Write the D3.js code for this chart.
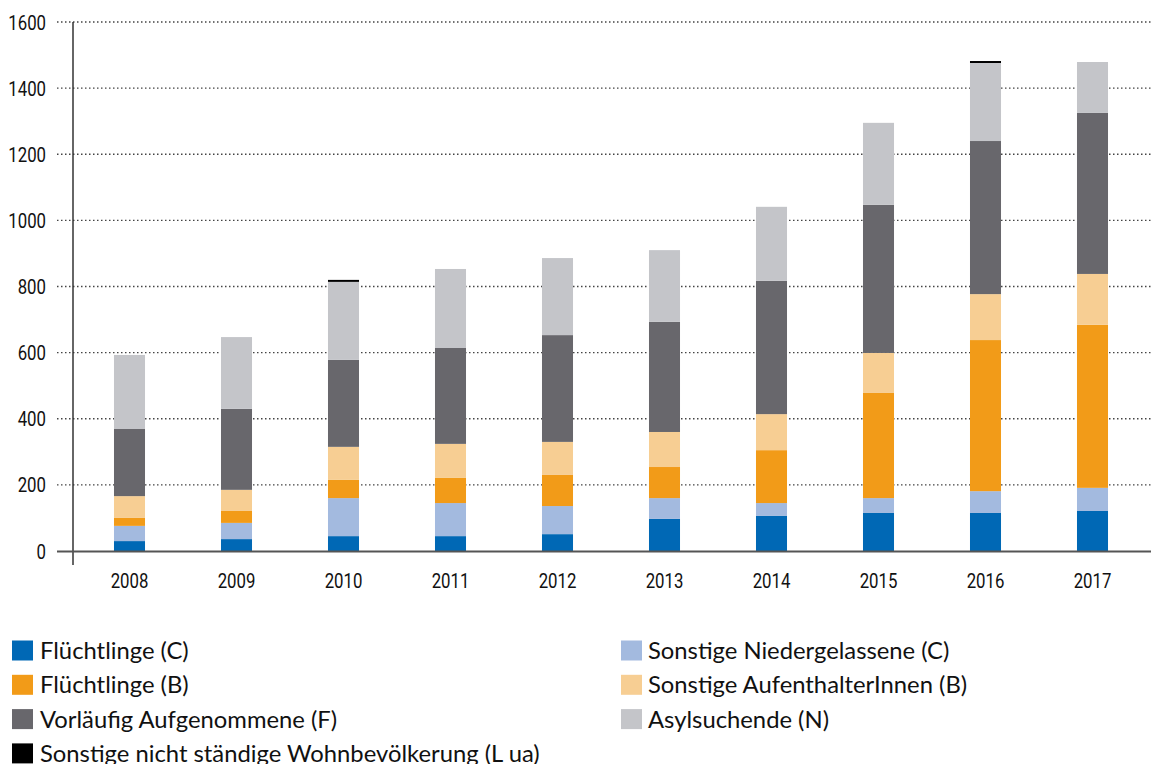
<!DOCTYPE html>
<html>
<head>
    <meta charset="utf-8">
    <title>Wohnbevölkerung nach Aufenthaltsstatus</title>
    <script src="https://d3js.org/d3.v7.min.js"></script>
    <style>
        body {
            margin: 0;
            background: #fff;
        }
        .tick-label {
            font-family: Roboto, "Liberation Sans", sans-serif;
            font-size: 21px;
            fill: #111;
        }
        .legend-label {
            font-family: Lato, "Open Sans", sans-serif;
            font-size: 23.8px;
            fill: #111;
        }
    </style>
</head>
<body>
    <svg id="chart" width="1151" height="764"></svg>
    <script>
        // values, stacked bottom to top
        const years = ['2008', '2009', '2010', '2011', '2012', '2013', '2014', '2015', '2016', '2017'];
        const fluechtlingeC = [30, 36, 45, 45, 51, 97, 106, 115, 115, 121];
        const niedergelasseneC = [46, 49, 115, 100, 85, 63, 39, 45, 66, 70];
        const fluechtlingeB = [24, 36, 55, 76, 94, 94, 160, 318, 457, 493];
        const aufenthalterB = [66, 64, 100, 103, 100, 106, 109, 121, 139, 154];
        const vorlaeufigF = [203, 245, 263, 290, 323, 333, 403, 448, 463, 487];
        const asylN = [224, 217, 236, 239, 233, 217, 224, 248, 236, 154];
        const sonstigeL = [0, 0, 6, 0, 0, 0, 0, 0, 6, 0];
        const yTicks = [0, 200, 400, 600, 800, 1000, 1200, 1400, 1600];

        const series = [
            { key: 'fluechtlingeC', label: 'Flüchtlinge (C)', color: '#0068b5', values: fluechtlingeC },
            { key: 'niedergelasseneC', label: 'Sonstige Niedergelassene (C)', color: '#a3badf', values: niedergelasseneC },
            { key: 'fluechtlingeB', label: 'Flüchtlinge (B)', color: '#f29b18', values: fluechtlingeB },
            { key: 'aufenthalterB', label: 'Sonstige AufenthalterInnen (B)', color: '#f7ce93', values: aufenthalterB },
            { key: 'vorlaeufigF', label: 'Vorläufig Aufgenommene (F)', color: '#68676c', values: vorlaeufigF },
            { key: 'asylN', label: 'Asylsuchende (N)', color: '#c4c5c9', values: asylN },
            { key: 'sonstigeL', label: 'Sonstige nicht ständige Wohnbevölkerung (L ua)', color: '#000000', values: sonstigeL }
        ];

        // legend layout: left column and right column
        const legendLeft = ['fluechtlingeC', 'fluechtlingeB', 'vorlaeufigF', 'sonstigeL'];
        const legendRight = ['niedergelasseneC', 'aufenthalterB', 'asylN'];

        const rows = years.map((y, i) => {
            const r = { year: y };
            series.forEach(s => r[s.key] = s.values[i]);
            return r;
        });

        const svg = d3.select('#chart');
        const narrow = 0.8; // condensed look for the axis numbers

        const x = d3.scaleBand()
            .domain(years)
            .range([76, 1146])
            .paddingInner(0.71)
            .paddingOuter(0.355);

        const y = d3.scaleLinear()
            .domain([0, 1600])
            .range([551, 22]);

        // dotted gridlines
        svg.append('g')
            .selectAll('line')
            .data(yTicks.filter(d => d > 0))
            .enter().append('line')
            .attr('x1', 57)
            .attr('x2', 1151)
            .attr('y1', d => y(d))
            .attr('y2', d => y(d))
            .attr('stroke', '#444')
            .attr('stroke-width', 1.3)
            .attr('stroke-dasharray', '1.5,2.5');

        // y tick labels
        svg.append('g')
            .selectAll('text')
            .data(yTicks)
            .enter().append('text')
            .attr('class', 'tick-label')
            .attr('transform', d => `translate(46,${y(d)}) scale(${narrow},1)`)
            .attr('dy', '0.36em')
            .attr('text-anchor', 'end')
            .text(d => d);

        // stacked bars
        const stack = d3.stack().keys(series.map(s => s.key));
        const stacked = stack(rows);

        svg.append('g')
            .selectAll('g')
            .data(stacked)
            .enter().append('g')
            .attr('fill', (d, i) => series[i].color)
            .selectAll('rect')
            .data(d => d)
            .enter().append('rect')
            .attr('x', d => x(d.data.year))
            .attr('y', d => y(d[1]))
            .attr('width', x.bandwidth())
            .attr('height', d => y(d[0]) - y(d[1]));

        // axes lines
        svg.append('line')
            .attr('x1', 73).attr('x2', 73)
            .attr('y1', 22).attr('y2', 565)
            .attr('stroke', '#333')
            .attr('stroke-width', 1.5);

        svg.append('line')
            .attr('x1', 57).attr('x2', 1151)
            .attr('y1', y(0) + 0.5).attr('y2', y(0) + 0.5)
            .attr('stroke', '#555')
            .attr('stroke-width', 2);

        // x labels
        svg.append('g')
            .selectAll('text')
            .data(years)
            .enter().append('text')
            .attr('class', 'tick-label')
            .attr('transform', d => `translate(${x(d) + x.bandwidth() / 2},588) scale(${narrow},1)`)
            .attr('text-anchor', 'middle')
            .text(d => d);

        // legend
        function drawLegend(keys, x0, xText) {
            const g = svg.append('g');
            keys.forEach((k, i) => {
                const s = series.find(d => d.key === k);
                const cy = 650.5 + i * 34.3;
                g.append('rect')
                    .attr('x', x0)
                    .attr('y', cy - 10)
                    .attr('width', 21)
                    .attr('height', 20)
                    .attr('fill', s.color);
                g.append('text')
                    .attr('class', 'legend-label')
                    .attr('x', xText)
                    .attr('y', cy)
                    .attr('dy', '0.36em')
                    .text(s.label);
            });
        }
        drawLegend(legendLeft, 12, 40);
        drawLegend(legendRight, 621, 648);
    </script>
</body>
</html>
